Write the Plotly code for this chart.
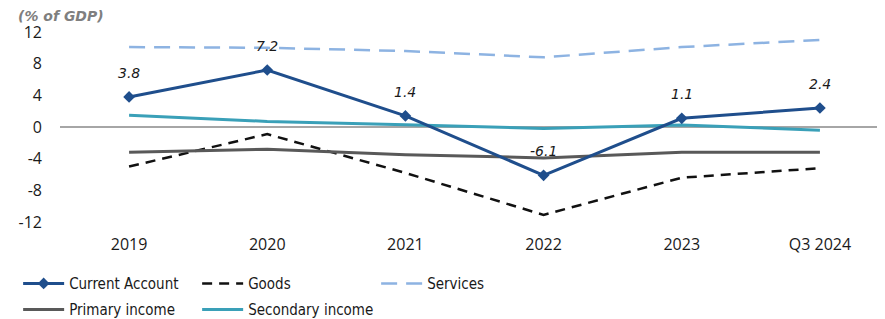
import plotly.graph_objects as go

categories = ["2019", "2020", "2021", "2022", "2023", "Q3 2024"]
current_account = [3.8, 7.2, 1.4, -6.1, 1.1, 2.4]
goods = [-5.0, -0.9, -5.8, -11.1, -6.4, -5.2]
services = [10.1, 10.0, 9.6, 8.8, 10.1, 11.0]
primary_income = [-3.2, -2.8, -3.5, -3.9, -3.2, -3.2]
secondary_income = [1.5, 0.7, 0.3, -0.2, 0.25, -0.4]
y_ticks = [12, 8, 4, 0, -4, -8, -12]

TICK_FONT = dict(family="Open Sans, DejaVu Sans, sans-serif", size=16, color="#1a1a1a")
LEG_FONT = dict(family="Liberation Sans Narrow, DejaVu Sans Condensed, Liberation Sans, sans-serif", size=15, color="#1a1a1a")
LABEL_FONT = dict(family="DejaVu Sans, sans-serif", size=14, color="#1a1a1a", style="italic")

fig = go.Figure()

fig.add_trace(go.Scatter(
    x=categories, y=services, name="Services", mode="lines",
    line=dict(color="#8db3e2", width=2.5, dash="16px,9px"), legend="legend"))
fig.add_trace(go.Scatter(
    x=categories, y=goods, name="Goods", mode="lines",
    line=dict(color="#111111", width=2.5, dash="10px,7px"), legend="legend"))
fig.add_trace(go.Scatter(
    x=categories, y=primary_income, name="Primary income", mode="lines",
    line=dict(color="#595959", width=3), legend="legend2"))
fig.add_trace(go.Scatter(
    x=categories, y=secondary_income, name="Secondary income", mode="lines",
    line=dict(color="#3aa0b8", width=3), legend="legend2"))
fig.add_trace(go.Scatter(
    x=categories, y=current_account, name="Current Account", mode="lines+markers",
    line=dict(color="#1f4e8c", width=3),
    marker=dict(symbol="diamond", size=9, color="#1f4e8c"),
    legend="legend"))

annotations = [dict(
    x=i, y=v, text=f"{v:.1f}", xref="x", yref="y", showarrow=False,
    yshift=24, font=LABEL_FONT) for i, v in enumerate(current_account)]
annotations.append(dict(
    text="<b><i>(% of GDP)</i></b>", xref="paper", yref="paper",
    x=-0.0535, y=1.0, xanchor="left", yanchor="bottom", yshift=6,
    showarrow=False,
    font=dict(family="DejaVu Sans, sans-serif", size=14, color="#7f7f7f")))

fig.update_layout(
    width=885, height=319,
    margin=dict(l=52, r=4, t=24, b=105, autoexpand=False),
    paper_bgcolor="white", plot_bgcolor="white",
    showlegend=True,
    xaxis=dict(
        type="category", categoryorder="array", categoryarray=categories,
        range=[-0.5, 5.5], showgrid=False, showline=False, zeroline=False,
        ticks="outside", ticklen=8, tickcolor="rgba(0,0,0,0)",
        tickfont=TICK_FONT, automargin=False),
    yaxis=dict(
        range=[-12, 12], tickvals=y_ticks, ticktext=[str(v) for v in y_ticks],
        showgrid=False, showline=False, zeroline=True, zerolinecolor="#a6a6a6",
        zerolinewidth=2, ticks="", ticklabelstandoff=17, tickfont=TICK_FONT,
        automargin=False),
    legend=dict(
        orientation="h", x=-0.0505, xanchor="left",
        y=-0.238, yanchor="top", entrywidth=123, entrywidthmode="pixels",
        itemwidth=41,
        traceorder="reversed", font=LEG_FONT, bgcolor="rgba(0,0,0,0)",
        itemclick=False, itemdoubleclick=False),
    legend2=dict(
        orientation="h", x=-0.0505, xanchor="left",
        y=-0.375, yanchor="top", entrywidth=123, entrywidthmode="pixels",
        itemwidth=41,
        traceorder="normal", font=LEG_FONT, bgcolor="rgba(0,0,0,0)",
        itemclick=False, itemdoubleclick=False),
    annotations=annotations,
)

fig.write_html("out.html")
